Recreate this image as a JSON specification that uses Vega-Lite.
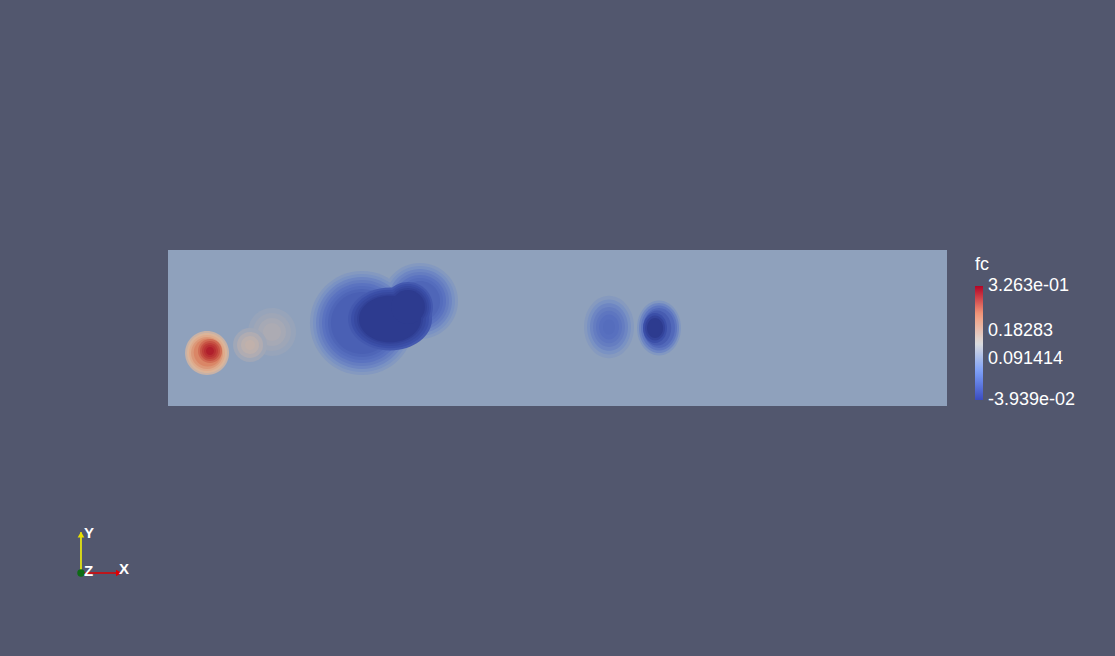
{
  "$schema": "https://vega.github.io/schema/vega-lite/v6.json",
  "width": 779,
  "height": 156,
  "autosize": {"type": "none"},
  "padding": {"left": 168, "top": 250, "right": 168, "bottom": 250},
  "background": "#52576e",
  "config": {"view": {"stroke": null}},
  "layer": [
    {
      "data": {"values": [{"x0": 0, "x1": 10, "y0": 0, "y1": 2, "fc": 0}]},
      "mark": {"type": "rect", "strokeWidth": 0},
      "encoding": {
        "x": {"field": "x0", "type": "quantitative", "scale": {"domain": [0, 10], "nice": false, "zero": false}, "axis": null},
        "x2": {"field": "x1"},
        "y": {"field": "y0", "type": "quantitative", "scale": {"domain": [0, 2], "nice": false, "zero": false}, "axis": null},
        "y2": {"field": "y1"},
        "fill": {
          "field": "fc", "type": "quantitative", "legend": null,
          "scale": {
            "domain": [-0.0394, -0.03, -0.02, -0.01, 0, 0.05, 0.12, 0.2, 0.27, 0.3263],
            "range": ["#2d3b8f", "#3b4fa8", "#5870bf", "#7890c4", "#8fa1bc", "#bfb1ad", "#e0b697", "#da8666", "#c44b3e", "#b01f2c"],
            "clamp": true, "interpolate": "rgb"
          }
        },
        "stroke": {
          "field": "fc", "type": "quantitative", "title": "fc",
          "scale": {
            "domain": [-0.03939, 0.052033, 0.14346, 0.23488, 0.3263],
            "range": ["#3b4cc0", "#7b9ff9", "#dddddd", "#f49a7b", "#b40426"],
            "interpolate": "rgb"
          },
          "legend": {
            "orient": "none",
            "legendX": 807,
            "legendY": 6,
            "direction": "vertical",
            "gradientLength": 114,
            "gradientThickness": 8,
            "gradientStrokeWidth": 0,
            "values": [-0.03935, 0.091414, 0.18283, 0.32625],
            "labelExpr": "datum.value > 0.3 ? '3.263e-01' : datum.value < 0 ? '-3.939e-02' : datum.value > 0.15 ? '0.18283' : '0.091414'",
            "labelColor": "#ffffff",
            "labelFont": "Liberation Sans",
            "labelFontSize": 18,
            "labelOffset": 5,
            "labelBaseline": "middle",
            "labelOverlap": false,
            "titleColor": "#ffffff",
            "titleFont": "Liberation Sans",
            "titleFontSize": 18,
            "titleFontWeight": "normal",
            "titlePadding": 12,
            "padding": 0
          }
        }
      }
    },
    {
      "data": {"values": [
        {"x": 1.335, "y": 0.949, "r": 0.308, "fc": 0.008, "form": "round"},
        {"x": 1.335, "y": 0.949, "r": 0.244, "fc": 0.016, "form": "round"},
        {"x": 1.335, "y": 0.949, "r": 0.180, "fc": 0.024, "form": "round"},
        {"x": 1.335, "y": 0.949, "r": 0.116, "fc": 0.03, "form": "round"},
        {"x": 1.053, "y": 0.782, "r": 0.218, "fc": 0.018, "form": "round"},
        {"x": 1.053, "y": 0.782, "r": 0.167, "fc": 0.034, "form": "round"},
        {"x": 1.053, "y": 0.782, "r": 0.116, "fc": 0.046, "form": "round"},
        {"x": 1.053, "y": 0.782, "r": 0.064, "fc": 0.055, "form": "round"},
        {"x": 0.501, "y": 0.679, "r": 0.282, "fc": 0.07, "form": "round"},
        {"x": 0.501, "y": 0.679, "r": 0.257, "fc": 0.11, "form": "round"},
        {"x": 0.501, "y": 0.679, "r": 0.231, "fc": 0.14, "form": "round"},
        {"x": 0.501, "y": 0.679, "r": 0.205, "fc": 0.17, "form": "round"},
        {"x": 0.51, "y": 0.685, "r": 0.180, "fc": 0.20, "form": "round"},
        {"x": 0.539, "y": 0.705, "r": 0.154, "fc": 0.23, "form": "round"},
        {"x": 0.539, "y": 0.705, "r": 0.128, "fc": 0.26, "form": "round"},
        {"x": 0.539, "y": 0.705, "r": 0.103, "fc": 0.285, "form": "round"},
        {"x": 0.539, "y": 0.705, "r": 0.077, "fc": 0.305, "form": "round"},
        {"x": 0.539, "y": 0.705, "r": 0.051, "fc": 0.3263, "form": "round"},
        {"x": 2.490, "y": 1.064, "r": 0.668, "fc": -0.005, "form": "round"},
        {"x": 3.235, "y": 1.346, "r": 0.488, "fc": -0.005, "form": "round"},
        {"x": 2.490, "y": 1.064, "r": 0.629, "fc": -0.009, "form": "round"},
        {"x": 3.235, "y": 1.346, "r": 0.449, "fc": -0.009, "form": "round"},
        {"x": 2.490, "y": 1.064, "r": 0.590, "fc": -0.013, "form": "round"},
        {"x": 3.235, "y": 1.346, "r": 0.410, "fc": -0.013, "form": "round"},
        {"x": 2.490, "y": 1.064, "r": 0.552, "fc": -0.016, "form": "round"},
        {"x": 3.235, "y": 1.346, "r": 0.372, "fc": -0.016, "form": "round"},
        {"x": 2.490, "y": 1.064, "r": 0.513, "fc": -0.019, "form": "round"},
        {"x": 3.235, "y": 1.346, "r": 0.334, "fc": -0.019, "form": "round"},
        {"x": 2.490, "y": 1.064, "r": 0.475, "fc": -0.021, "form": "round"},
        {"x": 3.235, "y": 1.346, "r": 0.295, "fc": -0.021, "form": "round"},
        {"x": 2.490, "y": 1.064, "r": 0.436, "fc": -0.023, "form": "round"},
        {"x": 3.235, "y": 1.346, "r": 0.257, "fc": -0.023, "form": "round"},
        {"x": 2.490, "y": 1.064, "r": 0.398, "fc": -0.025, "form": "round"},
        {"x": 2.850, "y": 1.115, "r": 0.539, "fc": -0.027, "form": "wide"},
        {"x": 3.080, "y": 1.270, "r": 0.321, "fc": -0.027, "form": "round"},
        {"x": 2.850, "y": 1.115, "r": 0.500, "fc": -0.030, "form": "wide"},
        {"x": 3.080, "y": 1.270, "r": 0.295, "fc": -0.030, "form": "round"},
        {"x": 2.850, "y": 1.115, "r": 0.462, "fc": -0.033, "form": "wide"},
        {"x": 3.080, "y": 1.270, "r": 0.270, "fc": -0.033, "form": "round"},
        {"x": 2.850, "y": 1.115, "r": 0.423, "fc": -0.036, "form": "wide"},
        {"x": 3.080, "y": 1.270, "r": 0.244, "fc": -0.036, "form": "round"},
        {"x": 2.850, "y": 1.115, "r": 0.398, "fc": -0.0394, "form": "wide"},
        {"x": 3.080, "y": 1.270, "r": 0.218, "fc": -0.0394, "form": "round"},
        {"x": 5.661, "y": 1.013, "r": 0.321, "fc": -0.004, "form": "tall"},
        {"x": 5.661, "y": 1.013, "r": 0.282, "fc": -0.009, "form": "tall"},
        {"x": 5.661, "y": 1.013, "r": 0.244, "fc": -0.013, "form": "tall"},
        {"x": 5.661, "y": 1.013, "r": 0.205, "fc": -0.016, "form": "tall"},
        {"x": 5.661, "y": 1.013, "r": 0.167, "fc": -0.018, "form": "tall"},
        {"x": 5.661, "y": 1.013, "r": 0.128, "fc": -0.020, "form": "tall"},
        {"x": 5.661, "y": 1.013, "r": 0.077, "fc": -0.021, "form": "tall"},
        {"x": 6.303, "y": 1.0, "r": 0.282, "fc": -0.006, "form": "tall"},
        {"x": 6.303, "y": 1.0, "r": 0.257, "fc": -0.013, "form": "tall"},
        {"x": 6.303, "y": 1.0, "r": 0.231, "fc": -0.018, "form": "tall"},
        {"x": 6.303, "y": 1.0, "r": 0.205, "fc": -0.022, "form": "tall"},
        {"x": 6.28, "y": 1.0, "r": 0.180, "fc": -0.026, "form": "tall"},
        {"x": 6.252, "y": 1.0, "r": 0.154, "fc": -0.030, "form": "tall"},
        {"x": 6.252, "y": 1.0, "r": 0.128, "fc": -0.035, "form": "tall"},
        {"x": 6.252, "y": 1.0, "r": 0.103, "fc": -0.0394, "form": "tall"}
      ]},
      "mark": {"type": "point", "filled": true, "opacity": 1, "strokeWidth": 0},
      "encoding": {
        "x": {"field": "x", "type": "quantitative"},
        "y": {"field": "y", "type": "quantitative"},
        "fill": {
          "field": "fc", "type": "quantitative", "legend": null,
          "scale": {
            "domain": [-0.0394, -0.03, -0.02, -0.01, 0, 0.05, 0.12, 0.2, 0.27, 0.3263],
            "range": ["#2d3b8f", "#3b4fa8", "#5870bf", "#7890c4", "#8fa1bc", "#bfb1ad", "#e0b697", "#da8666", "#c44b3e", "#b01f2c"],
            "clamp": true, "interpolate": "rgb"
          }
        },
        "size": {"field": "r", "type": "quantitative", "legend": null, "scale": {"type": "pow", "exponent": 2, "domain": [0, 1], "range": [0, 24274]}},
        "shape": {"field": "form", "type": "nominal", "legend": null, "scale": {"domain": ["round", "tall", "wide"], "range": ["M-1,0A1,1 0 1,1 1,0A1,1 0 1,1 -1,0Z", "M-1,0A1,1.25 0 1,1 1,0A1,1.25 0 1,1 -1,0Z", "M-1,0A1,0.75 0 1,1 1,0A1,0.75 0 1,1 -1,0Z"]}}
      }
    },
    {
      "data": {"values": [{"x": -1.117, "y": -2.141, "x2": -1.117, "y2": -1.62}]},
      "mark": {"type": "rule", "color": "#ffff00", "strokeWidth": 1.5},
      "encoding": {"x": {"field": "x", "type": "quantitative"}, "y": {"field": "y", "type": "quantitative"}, "x2": {"field": "x2"}, "y2": {"field": "y2"}}
    },
    {
      "data": {"values": [{"x": -1.117, "y": -2.141, "x2": -0.6, "y2": -2.141}]},
      "mark": {"type": "rule", "color": "#e00000", "strokeWidth": 1.5},
      "encoding": {"x": {"field": "x", "type": "quantitative"}, "y": {"field": "y", "type": "quantitative"}, "x2": {"field": "x2"}, "y2": {"field": "y2"}}
    },
    {
      "data": {"values": [{"x": -1.117, "y": -1.65}]},
      "mark": {"type": "point", "shape": "triangle-up", "filled": true, "opacity": 1, "color": "#e8e000", "size": 45},
      "encoding": {"x": {"field": "x", "type": "quantitative"}, "y": {"field": "y", "type": "quantitative"}}
    },
    {
      "data": {"values": [{"x": -0.63, "y": -2.141}]},
      "mark": {"type": "point", "shape": "triangle-right", "filled": true, "opacity": 1, "color": "#e00000", "size": 45},
      "encoding": {"x": {"field": "x", "type": "quantitative"}, "y": {"field": "y", "type": "quantitative"}}
    },
    {
      "data": {"values": [{"x": -1.117, "y": -2.141}]},
      "mark": {"type": "point", "shape": "circle", "filled": true, "opacity": 1, "color": "#0d6b14", "size": 55},
      "encoding": {"x": {"field": "x", "type": "quantitative"}, "y": {"field": "y", "type": "quantitative"}}
    },
    {
      "data": {"values": [
        {"x": -1.078, "y": -1.63, "t": "Y"},
        {"x": -1.078, "y": -2.109, "t": "Z"},
        {"x": -0.629, "y": -2.096, "t": "X"}
      ]},
      "mark": {"type": "text", "align": "left", "baseline": "middle", "color": "#ffffff", "font": "Liberation Sans", "fontSize": 15, "fontWeight": "bold"},
      "encoding": {"x": {"field": "x", "type": "quantitative"}, "y": {"field": "y", "type": "quantitative"}, "text": {"field": "t"}}
    }
  ]
}
